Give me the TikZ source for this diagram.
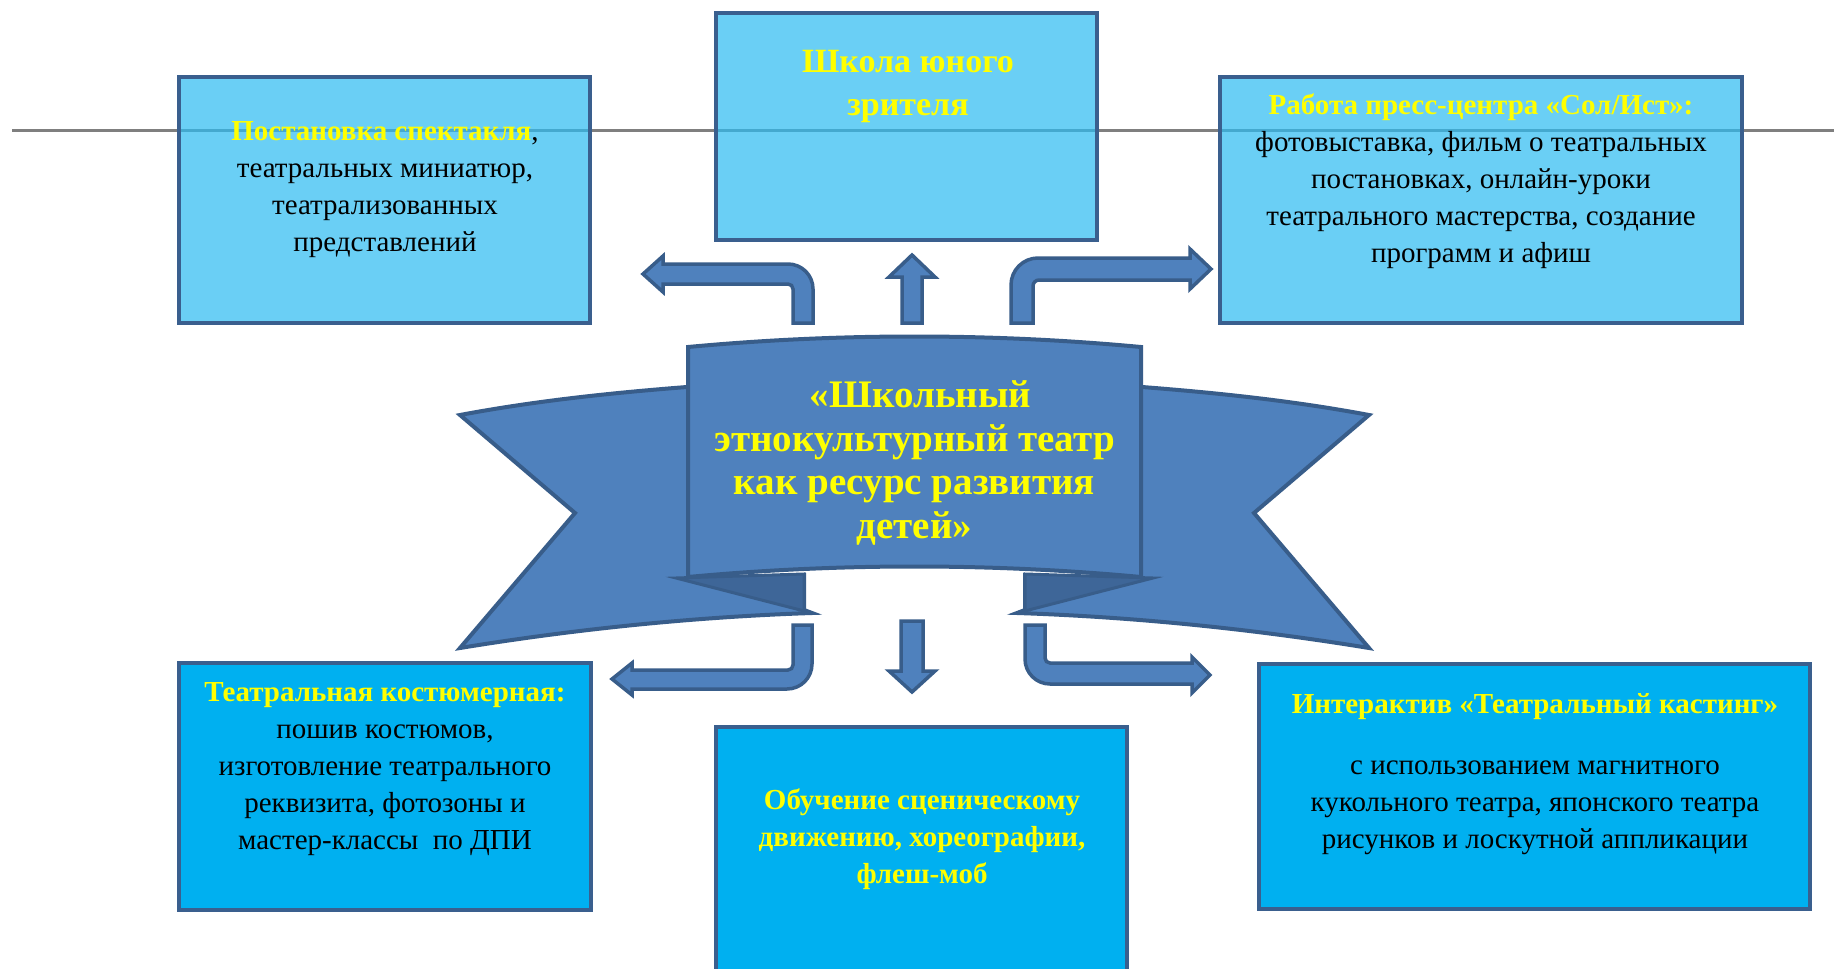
\documentclass[tikz,border=0pt]{standalone}
\usepackage{fontspec}
\setmainfont{Liberation Serif}
\definecolor{boxedge}{HTML}{3A5F8E}
\definecolor{topfill}{HTML}{2CBCF1}
\definecolor{botfill}{HTML}{00B0F0}
\definecolor{ribfill}{HTML}{4F81BD}
\definecolor{ribedge}{HTML}{385D8A}
\definecolor{ribfold}{HTML}{3E6698}
\definecolor{ylw}{HTML}{FFFF00}
\definecolor{rulegray}{HTML}{7F7F7F}
\newcommand\yel[1]{{\bfseries\color{ylw}#1}}
\begin{document}
\begin{tikzpicture}[x=1pt,y=-1pt,
  topbox/.style={draw=boxedge, line width=4.5pt, fill=topfill, fill opacity=0.7, draw opacity=1, inner sep=0pt, outer sep=0pt},
  botbox/.style={draw=boxedge, line width=4.5pt, fill=botfill, inner sep=0pt, outer sep=0pt},
  ribbon/.style={draw=ribedge, fill=ribfill, line width=4pt, line join=miter},
  fold/.style={draw=ribedge, fill=ribfold, line width=3pt, line join=miter},
  blockarrow/.style={draw=ribedge, fill=ribfill, line width=3.5pt, line join=miter},
  txt/.style={anchor=base, align=center, inner sep=0pt, font=\fontsize{29}{37}\selectfont},
  bigtxt/.style={anchor=base, align=center, inner sep=0pt, font=\fontsize{34}{43}\selectfont\bfseries, text=ylw},
  ribtxt/.style={anchor=base, align=center, inner sep=0pt, font=\fontsize{39}{43.5}\selectfont\bfseries, text=ylw}
]
\useasboundingbox (0,0) rectangle (1834,969);
\fill[white] (0,0) rectangle (1834,969);

% horizontal rule
\coordinate (ruleL) at (12,130);
\coordinate (ruleR) at (1834,130);
\draw[rulegray, line width=3pt] (ruleL) -- (ruleR);

% boxes
\node[topbox, minimum width=411, minimum height=246] (tl) at (384.5,200) {};
\node[topbox, minimum width=381, minimum height=227] (tc) at (906.5,126.5) {};
\node[topbox, minimum width=522, minimum height=246] (tr) at (1481,200) {};
\node[botbox, minimum width=412, minimum height=247] (bl) at (385,786.5) {};
\node[botbox, minimum width=411, minimum height=273] (bc) at (921.5,863.5) {};
\node[botbox, minimum width=551, minimum height=245] (br) at (1534.5,786.5) {};

% box texts (anchored at the baseline of the last line)
\node[txt] (tltext) at (385,251) {\yel{Постановка спектакля},\\театральных миниатюр,\\театрализованных\\представлений};
\node[bigtxt] (tctext) at (908,115) {Школа юного\\зрителя};
\node[txt] (trtext) at (1481,262) {\yel{Работа пресс-центра «Сол/Ист»:}\\фотовыставка, фильм о театральных\\постановках, онлайн-уроки\\театрального мастерства, создание\\программ и афиш};
\node[txt] (bltext) at (385,849) {\yel{Театральная костюмерная:}\\пошив костюмов,\\изготовление театрального\\реквизита, фотозоны и\\мастер-классы\ \ по ДПИ};
\node[txt, font=\fontsize{29}{37}\selectfont\bfseries, text=ylw] (bctext) at (922,883) {Обучение сценическому\\движению, хореографии,\\флеш-моб};
\node[txt] (brtext) at (1535,848) {\yel{Интерактив «Театральный кастинг»}\\[24pt]с использованием магнитного\\кукольного театра, японского театра\\рисунков и лоскутной аппликации};

% ribbon: back pieces
\draw[ribbon] (460,415) .. controls (540,400) and (620,392) .. (700,386) -- (700,580) -- (804,575) -- (804,610) -- (812,613) .. controls (690,617) and (570,630) .. (460,648) -- (575,513) -- cycle;
\draw[ribbon] (1369,415) .. controls (1289,400) and (1209,392) .. (1129,386) -- (1129,580) -- (1025,575) -- (1025,610) -- (1017,613) .. controls (1139,617) and (1259,630) .. (1369,648) -- (1254,513) -- cycle;
% folds
\draw[fold] (676,578) -- (804,574) -- (804,610) -- (812,613) -- cycle;
\draw[fold] (1153,578) -- (1025,574) -- (1025,610) -- (1017,613) -- cycle;
% front
\draw[ribbon] (688,347) .. controls (838,333) and (991,333) .. (1141,347) -- (1141,577) .. controls (991,563) and (838,563) .. (688,577) -- cycle;
\node[ribtxt] (title) at (914.5,538) {\hspace*{12pt}«Школьный\\этнокультурный театр\\как ресурс развития\\детей»};

% block arrows
\draw[blockarrow] (793,323) -- (793,289) .. controls (793,286.2) and (790.8,284) .. (788,284) -- (663,284) -- (663,292) -- (643,274) -- (663,256) -- (663,264) -- (788,264) .. controls (801.8,264) and (813,275.2) .. (813,289) -- (813,323) -- cycle;
\draw[blockarrow] (902,323) -- (902,277) -- (889,277) -- (912,255) -- (935,277) -- (922,277) -- (922,323) -- cycle;
\draw[blockarrow] (1011,323) -- (1011,285) .. controls (1011,270.1) and (1023.1,258) .. (1038,258) -- (1190,258) -- (1190,249) -- (1211,269) -- (1190,289) -- (1190,280) -- (1039,280) .. controls (1035.7,280) and (1033,282.7) .. (1033,286) -- (1033,323) -- cycle;
\draw[blockarrow] (793,625) -- (812,625) -- (812,664) .. controls (812,677.8) and (800.8,689) .. (787,689) -- (632,689) -- (632,695) -- (612,679) -- (632,663) -- (632,670) -- (788,670) .. controls (790.8,670) and (793,667.8) .. (793,665) -- cycle;
\draw[blockarrow] (901,621) -- (923,621) -- (923,671) -- (935,671) -- (912,692) -- (889,671) -- (901,671) -- cycle;
\draw[blockarrow] (1025,625) -- (1045,625) -- (1045,658) .. controls (1045,660.8) and (1047.2,663) .. (1050,663) -- (1192,663) -- (1192,657) -- (1210,675) -- (1192,693) -- (1192,684) -- (1050,684) .. controls (1036.2,684) and (1025,672.8) .. (1025,659) -- cycle;
\end{tikzpicture}
\end{document}
